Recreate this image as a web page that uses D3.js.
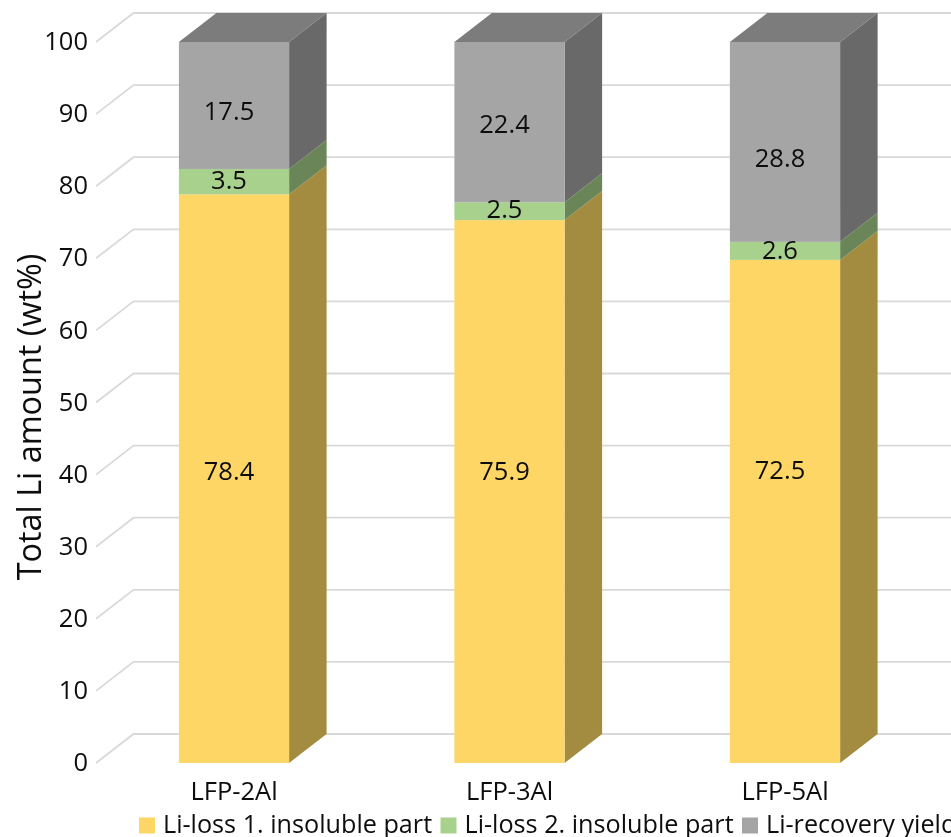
<!DOCTYPE html>
<html>
<head>
<meta charset="utf-8">
<script src="https://cdnjs.cloudflare.com/ajax/libs/d3/7.8.5/d3.min.js"></script>
<style>
html,body{margin:0;padding:0;background:#fff;overflow:hidden}
svg{display:block}
text{font-family:"Open Sans",sans-serif;fill:#0d0d0d}
</style>
</head>
<body>
<div id="chart"></div>
<script>
const categories = ["LFP-2Al", "LFP-3Al", "LFP-5Al"];
const insolubleOne = [78.4, 75.9, 72.5];
const insolubleTwo = [3.5, 2.5, 2.6];
const recoveryYield = [17.5, 22.4, 28.8];
const seriesNames = ["Li-loss 1. insoluble part", "Li-loss 2. insoluble part", "Li-recovery yield"];
const yTicks = [0, 10, 20, 30, 40, 50, 60, 70, 80, 90, 100];
const axisTitle = "Total Li amount (wt%)";

const W = 951, H = 837;
const depthX = 37.5, depthY = 29;
const frontColors = ["#FDD666", "#A9D18E", "#A5A5A5"];
const sideColors = ["#A38B3F", "#6A8658", "#696969"];
const topColor = "#7B7B7B";
const gridColor = "#D9D9D9";

// Where the source figure sits each data label, read on the value axis
const labelAxisValue = [[40.5, 40.5, 40.6], [80.9, 76.9, 71.2], [90.4, 88.6, 84.0]];

const rows = categories.map((c, i) => ({
  cat: c, s0: insolubleOne[i], s1: insolubleTwo[i], s2: recoveryYield[i]
}));
const stacked = d3.stack().keys(["s0", "s1", "s2"]).offset(d3.stackOffsetExpand)(rows);

const x = d3.scaleBand().domain(categories).range([96.25, 922.75]).paddingInner(0.6).paddingOuter(0.3);
const y = d3.scaleLinear().domain([0, 100]).range([763, 42]);

const svg = d3.select("#chart").append("svg").attr("width", W).attr("height", H).attr("viewBox", `0 0 ${W} ${H}`);
const defs = svg.append("defs");
defs.append("filter").attr("id", "soft").append("feGaussianBlur").attr("stdDeviation", 0.45);
const root = svg.append("g").attr("filter", "url(#soft)");

// Gridlines: floor/wall bend plus back wall run
const gridX0 = 96;
root.append("g").selectAll("path").data(yTicks).join("path")
  .attr("fill", "none").attr("stroke", gridColor).attr("stroke-width", 1.8)
  .attr("d", t => `M${gridX0},${y(t)}L${gridX0 + depthX},${y(t) - depthY}L${W},${y(t) - depthY}`);

// Tick labels
root.append("g").selectAll("text").data(yTicks).join("text")
  .attr("x", 88).attr("y", t => y(t) - 1).attr("dy", "0.36em")
  .attr("text-anchor", "end").attr("font-size", 25.5).text(t => t);

// Axis title
root.append("text")
  .attr("transform", "translate(29,417) rotate(-90)")
  .attr("text-anchor", "middle").attr("dy", "0.36em")
  .attr("font-size", 32.4).text(axisTitle);

// Bars: side faces, front faces, top
const layers = root.append("g").selectAll("g").data(stacked).join("g");
layers.each(function (layer, li) {
  const g = d3.select(this);
  g.selectAll("path.side").data(layer).join("path").attr("class", "side")
    .attr("fill", sideColors[li])
    .attr("d", d => {
      const xr = x(d.data.cat) + x.bandwidth();
      const y0 = y(d[0] * 100), y1 = y(d[1] * 100);
      return `M${xr},${y0}L${xr + depthX},${y0 - depthY}L${xr + depthX},${y1 - depthY}L${xr},${y1}Z`;
    });
  g.selectAll("rect.front").data(layer).join("rect").attr("class", "front")
    .attr("x", d => x(d.data.cat)).attr("width", x.bandwidth())
    .attr("y", d => y(d[1] * 100)).attr("height", d => y(d[0] * 100) - y(d[1] * 100))
    .attr("fill", frontColors[li]);
});
root.append("g").selectAll("path").data(categories).join("path")
  .attr("fill", topColor)
  .attr("d", c => {
    const xl = x(c), xr = xl + x.bandwidth(), yt = y(100);
    return `M${xl},${yt}L${xr},${yt}L${xr + depthX},${yt - depthY}L${xl + depthX},${yt - depthY}Z`;
  });

// Data labels
[insolubleOne, insolubleTwo, recoveryYield].forEach((vals, si) => {
  root.append("g").selectAll("text").data(vals).join("text")
    .attr("x", (v, i) => x(categories[i]) + x.bandwidth() / 2 - 5)
    .attr("y", (v, i) => y(labelAxisValue[si][i]))
    .attr("dy", "0.36em").attr("text-anchor", "middle").attr("font-size", 25.5)
    .text(v => d3.format(".1f")(v));
});

// Category labels
root.append("g").selectAll("text").data(categories).join("text")
  .attr("x", c => x(c) + x.bandwidth() / 2).attr("y", 800)
  .attr("text-anchor", "middle").attr("font-size", 25.5).text(c => c);

// Legend
const legendX = [139, 440.5, 742];
const legend = root.append("g").selectAll("g").data(seriesNames).join("g")
  .attr("transform", (d, i) => `translate(${legendX[i]},0)`);
legend.append("rect").attr("y", 817.5).attr("width", 16).attr("height", 16).attr("fill", (d, i) => frontColors[i]);
legend.append("text").attr("x", 24).attr("y", 832.5).attr("font-size", 25.2).text(d => d);
</script>
</body>
</html>
